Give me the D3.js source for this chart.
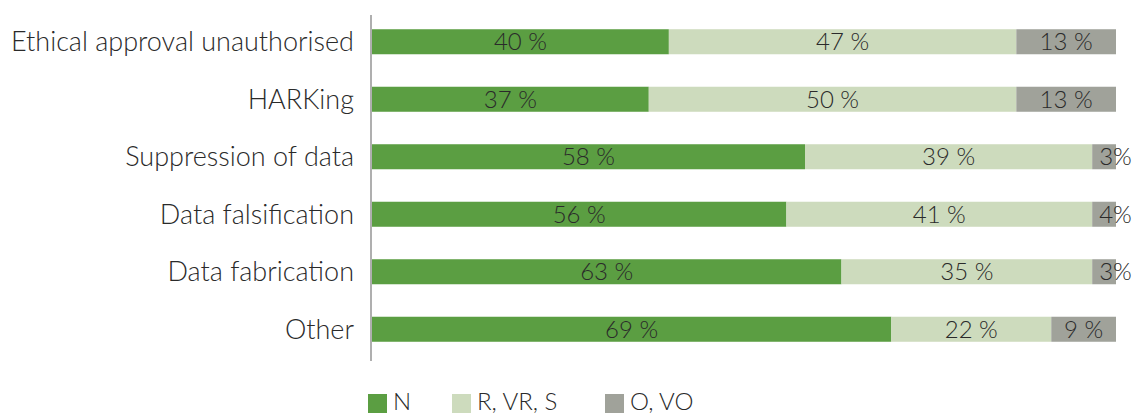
<!DOCTYPE html>
<html>
<head>
<meta charset="utf-8">
<script src="https://cdn.jsdelivr.net/npm/d3@7"></script>
<style>
  body { margin: 0; background: #fff; }
  text { font-family: Lato, "Open Sans", sans-serif; font-weight: 300; fill: #2a2a2a; }
</style>
</head>
<body>
<script>
// categories, top to bottom
const categories = ["Ethical approval unauthorised", "HARKing", "Suppression of data",
                    "Data falsification", "Data fabrication", "Other"]

// bar shares (%)
const shareN = [39.9, 37.2, 58.2, 55.7, 63.1, 69.8]
const shareR = [46.7, 49.4, 38.6, 41.1, 33.7, 21.5]
const shareO = [13.4, 13.4, 3.2, 3.2, 3.2, 8.7]

// printed labels on the bars
const labelN = [40, 37, 58, 56, 63, 69]
const labelR = [47, 50, 39, 41, 35, 22]
const labelO = [13, 13, 3, 4, 3, 9]

const seriesNames = ["N", "R, VR, S", "O, VO"]
const colors = ["#5b9e42", "#cddbbd", "#a0a29a"]

const w = 1135
const h = 416

const svg = d3.select("body")
  .append("svg")
  .attr("width", w)
  .attr("height", h)

const table = categories.map((c, i) => ({
  cat: c, N: shareN[i], R: shareR[i], O: shareO[i],
  lN: labelN[i], lR: labelR[i], lO: labelO[i]
}))

const keys = ["N", "R", "O"]
const stack = d3.stack().keys(keys)(table)

const xScale = d3.scaleLinear().domain([0, 100]).range([372, 1116])
const yScale = d3.scaleBand().domain(categories).range([13, 358])
  .paddingInner(0.565).paddingOuter(0.2825)

// bars
const layers = svg.selectAll("g.layer")
  .data(stack)
  .enter()
  .append("g")
  .attr("class", "layer")
  .attr("fill", (d, i) => colors[i])

layers.selectAll("rect")
  .data(d => d)
  .enter()
  .append("rect")
  .attr("x", d => xScale(d[0]))
  .attr("y", d => yScale(d.data.cat))
  .attr("width", d => xScale(d[1]) - xScale(d[0]))
  .attr("height", yScale.bandwidth())

// value labels (small ones start inside the bar and run past it)
layers.each(function (layer) {
  const key = layer.key
  d3.select(this).selectAll("text")
    .data(layer)
    .enter()
    .append("text")
    .attr("x", d => {
      const small = d[1] - d[0] < 5
      return small ? xScale(d[0]) + 7 : (xScale(d[0]) + xScale(d[1])) / 2
    })
    .attr("y", d => yScale(d.data.cat) + yScale.bandwidth() / 2)
    .attr("dy", "0.36em")
    .attr("text-anchor", d => (d[1] - d[0] < 5) ? "start" : "middle")
    .style("font-size", "24px")
    .text(d => {
      const v = d.data["l" + key]
      return (d[1] - d[0] < 5) ? v + "%" : v + " %"
    })
})

// y axis
const yAxis = d3.axisLeft(yScale).tickSize(0).tickSizeOuter(0).tickPadding(17)
const gy = svg.append("g")
  .attr("transform", "translate(371, 0)")
  .call(yAxis)
gy.select(".domain").remove()
gy.selectAll("text")
  .attr("dy", "0.36em")
  .style("font-size", "27px")
  .style("font-family", "Lato, 'Open Sans', sans-serif")
  .style("font-weight", 300)
  .attr("fill", "#2a2a2a")

svg.append("line")
  .attr("x1", 371).attr("x2", 371)
  .attr("y1", 15).attr("y2", 361)
  .attr("stroke", "#7a7a7a")
  .attr("stroke-width", 1.2)

// legend
const legendX = [368, 452, 605]
const legend = svg.selectAll("g.legend")
  .data(seriesNames)
  .enter()
  .append("g")
  .attr("class", "legend")
  .attr("transform", (d, i) => "translate(" + legendX[i] + ", 394)")

legend.append("rect")
  .attr("width", 19)
  .attr("height", 19)
  .attr("fill", (d, i) => colors[i])

legend.append("text")
  .attr("x", 25)
  .attr("y", 16)
  .style("font-size", "24px")
  .text(d => d)
</script>
</body>
</html>
